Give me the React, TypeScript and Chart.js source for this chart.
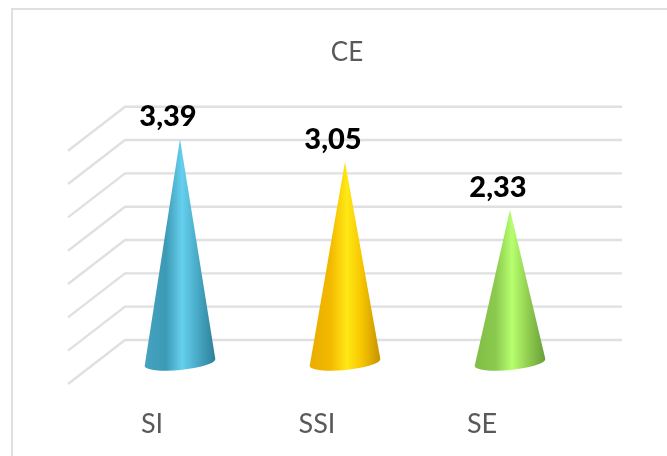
import React, { useEffect, useRef } from "react";
import { Chart, registerables } from "chart.js";

Chart.register(...registerables);

const categories = ["SI", "SSI", "SE"];
const scores = [3.39, 3.05, 2.33];
const axisMax = 3.5;
const axisStep = 0.5;

// Shading across each cone, left edge to right edge.
const coneShades = [
  ["#46a3bf", "#3c9ab6", "#66d0ee", "#48abc8", "#2e7e96"],
  ["#e8ad00", "#f3b900", "#ffe914", "#f6c400", "#c69200"],
  ["#7fbd45", "#8cc94f", "#b6ff6e", "#93d052", "#669f36"],
];

const FONT = "Lato, 'Open Sans', sans-serif";
const GRID = "#e0e0e0";
const TEXT = "#595959";

// Floor and back wall of the 3D box, drawn from the value axis ticks.
const boxPlugin = {
  id: "box",
  afterLayout(chart: any) {
    // The title sits a touch right of the category band's centre.
    const t = chart.titleBlock;
    t.left = 99.5;
    t.right = 594.5;
  },
  beforeDatasetsDraw(chart: any) {
    const { ctx, scales } = chart;
    const y = scales.y;
    ctx.save();
    ctx.strokeStyle = GRID;
    ctx.lineWidth = 2;
    ctx.strokeRect(12, 9, 800, 600);
    ctx.lineWidth = 2.4;
    y.ticks.forEach((_: any, i: number) => {
      const p = y.getPixelForTick(i);
      ctx.beginPath();
      ctx.moveTo(68, p + 19);
      ctx.lineTo(125, p - 25);
      ctx.lineTo(622, p - 25);
      ctx.stroke();
    });
    ctx.restore();
  },
};

// Each bar element is painted as a shaded cone with a value above its tip.
const conePlugin = {
  id: "cones",
  afterDatasetsDraw(chart: any) {
    const { ctx } = chart;
    const bars = chart.getDatasetMeta(0).data;
    bars.forEach((bar: any, i: number) => {
      const { x, y, base } = bar;
      const rx = 35.5;
      const ry = 7.5;
      const tilt = (-5.5 * Math.PI) / 180;
      const cy = base - 2.5;
      const g = ctx.createLinearGradient(x - rx, 0, x + rx, 0);
      const stops = [0, 0.3, 0.53, 0.74, 1];
      coneShades[i].forEach((c, k) => g.addColorStop(stops[k], c));
      ctx.save();
      ctx.fillStyle = g;
      ctx.beginPath();
      ctx.moveTo(x, y);
      ctx.lineTo(x - rx * Math.cos(tilt), cy - rx * Math.sin(tilt));
      ctx.ellipse(x, cy, rx, ry, tilt, Math.PI, 0, true);
      ctx.closePath();
      ctx.fill();
      ctx.fillStyle = "#000000";
      ctx.font = `900 29px ${FONT}`;
      ctx.textAlign = "center";
      ctx.textBaseline = "middle";
      ctx.fillText(scores[i].toFixed(2).replace(".", ","), x - 12, y - 22.5);
      ctx.restore();
    });
  },
};

export default function App() {
  const ref = useRef<HTMLCanvasElement>(null);
  useEffect(() => {
    const chart = new Chart(ref.current!, {
      type: "bar",
      data: {
        labels: categories,
        datasets: [
          {
            data: scores,
            backgroundColor: "rgba(0,0,0,0)",
            borderWidth: 0,
            categoryPercentage: 0.43,
            barPercentage: 1,
          },
        ],
      },
      options: {
        animation: false,
        responsive: false,
        layout: { padding: { left: 97.5, right: 74.5, top: 0, bottom: 15 } },
        plugins: {
          legend: { display: false },
          tooltip: { enabled: false },
          title: {
            display: true,
            text: "CE",
            color: TEXT,
            font: { family: FONT, size: 26, weight: "normal" },
            padding: { top: 37, bottom: 63.5 },
          },
        },
        scales: {
          x: {
            grid: { display: false, drawTicks: false },
            border: { display: false },
            afterFit(scale: any) {
              scale.height = 76;
            },
            ticks: {
              color: TEXT,
              font: { family: FONT, size: 27 },
              padding: 43,
              labelOffset: -28,
              maxRotation: 0,
            },
          },
          y: {
            display: false,
            min: 0,
            max: axisMax,
            ticks: { stepSize: axisStep },
          },
        },
      },
      plugins: [boxPlugin, conePlugin],
    } as any);
    return () => chart.destroy();
  }, []);
  return (
    <div style={{ position: "fixed", left: 0, top: 0, width: 667, height: 456, background: "#fff" }}>
      <canvas ref={ref} width={667} height={456} style={{ display: "block" }} />
    </div>
  );
}
